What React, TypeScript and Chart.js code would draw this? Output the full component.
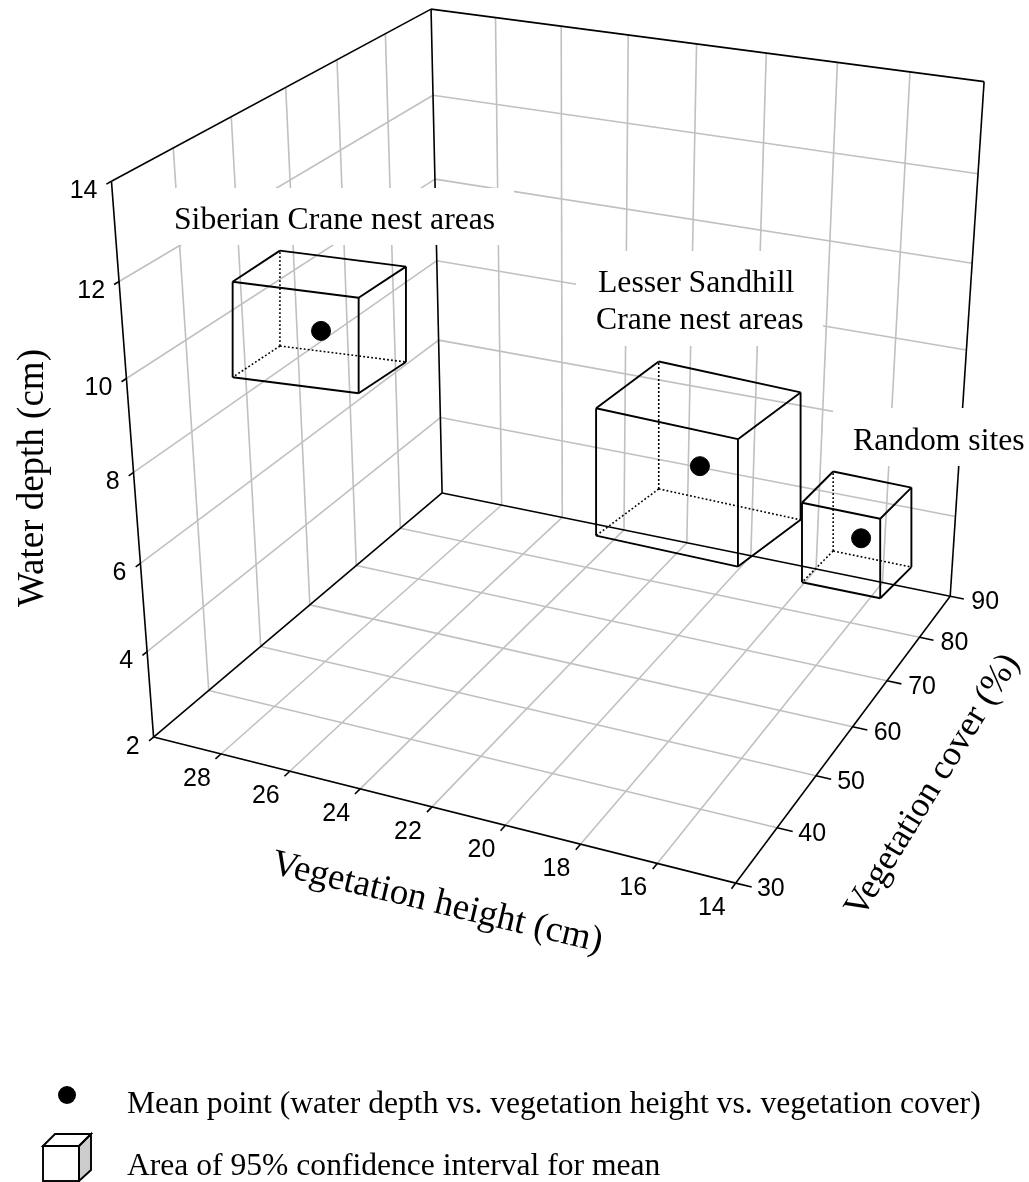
import React, { useEffect, useRef } from "react";
import { Chart, registerables } from "chart.js";
Chart.register(...registerables);

const W = 1029, H = 1182;
const heightTicks = [28, 26, 24, 22, 20, 18, 16, 14];
const coverTicks = [30, 40, 50, 60, 70, 80, 90];
const depthTicks = [2, 4, 6, 8, 10, 12, 14];

// 95% confidence boxes, [low, high]
const siberianHeight = [27.31, 31.13];
const siberianCover = [54.72, 64.17];
const siberianDepth = [7.89, 10.05];
const lesserHeight = [16.53, 20.44];
const lesserCover = [52.78, 68.23];
const lesserDepth = [5.82, 8.66];
const randomHeight = [13.2, 15.28];
const randomCover = [56.77, 65.38];
const randomDepth = [5.4, 7.17];
// mean points: height, cover, depth
const siberianMean = [29.18, 59.45, 8.77];
const lesserMean = [18.44, 60.5, 7.2];
const randomMean = [14.12, 61.07, 6.23];

// camera calibration: axis value triple -> where the reference shows it
const anchors: number[][] = [
  [30, 30, 14, 112, 180], [30, 30, 2, 154, 736], [14, 30, 2, 735, 882], [14, 90, 2, 949, 597],
  [30, 90, 2, 442, 491], [30, 90, 14, 431, 10], [14, 90, 14, 984, 81],
  [28, 30, 2, 221, 754], [26, 30, 2, 290, 772], [24, 30, 2, 360, 789], [22, 30, 2, 432, 808], [20, 30, 2, 505, 826], [16, 30, 2, 657, 863],
  [14, 40, 2, 777, 826], [14, 50, 2, 817, 775], [14, 60, 2, 853, 727], [14, 70, 2, 888, 682], [14, 80, 2, 920, 638],
  [30, 30, 12, 119, 282], [30, 30, 10, 126, 379], [30, 30, 4, 147, 653],
];
const nu = (h: number) => (h - 14) / 16, nv = (c: number) => (c - 30) / 60, nw = (d: number) => (d - 2) / 12;

function lsq(A: number[][], b: number[]) {
  const n = A[0].length;
  const M = Array.from({ length: n }, () => new Array(n + 1).fill(0));
  A.forEach((r, k) => { for (let i = 0; i < n; i++) { for (let j = 0; j < n; j++) M[i][j] += r[i] * r[j]; M[i][n] += r[i] * b[k]; } });
  for (let i = 0; i < n; i++) {
    let p = i; for (let r = i + 1; r < n; r++) if (Math.abs(M[r][i]) > Math.abs(M[p][i])) p = r;
    [M[i], M[p]] = [M[p], M[i]];
    for (let r = 0; r < n; r++) if (r !== i) { const f = M[r][i] / M[i][i]; for (let c = i; c <= n; c++) M[r][c] -= f * M[i][c]; }
  }
  return M.map((r, i) => r[n] / r[i]);
}
function camera() {
  const A: number[][] = [], b: number[] = [];
  anchors.forEach(([h, c, d, x, y]) => {
    const u = nu(h), v = nv(c), w = nw(d);
    const X = x / 1000, Y = y / 1000;
    A.push([u, v, w, 1, 0, 0, 0, 0, -X * u, -X * v, -X * w]); b.push(X);
    A.push([0, 0, 0, 0, u, v, w, 1, -Y * u, -Y * v, -Y * w]); b.push(Y);
  });
  const p = lsq(A, b);
  return [[p[0], p[1], p[2], p[3]], [p[4], p[5], p[6], p[7]], [p[8], p[9], p[10], 1]];
}
const P = camera();
function project(h: number, c: number, d: number) {
  const q = [nu(h), nv(c), nw(d), 1];
  const dot = (r: number[]) => r[0] * q[0] + r[1] * q[1] + r[2] * q[2] + r[3];
  const s = dot(P[2]);
  return { x: 1000 * dot(P[0]) / s, y: 1000 * dot(P[1]) / s };
}

const line = (pts: { x: number; y: number }[], color: string, width: number, dash: number[] = []) => ({
  showLine: true, data: pts, borderColor: color, borderWidth: width, borderDash: dash, pointRadius: 0, fill: false,
});
const line3 = (pts: number[][], color: string, width: number) => line(pts.map(p => project(p[0], p[1], p[2])), color, width);

// the source draws each box as an oblique parallel projection with vertical uprights;
// heightSlope and coverSlope are that drawing's edge slopes
function boxLines(height: number[], cover: number[], depth: number[], heightSlope: number, coverSlope: number) {
  const [h0, h1] = height, [c0, c1] = cover, [d0, d1] = depth;
  const hm = (h0 + h1) / 2, cm = (c0 + c1) / 2, dm = (d0 + d1) / 2;
  const o = project(hm, cm, dm);
  const a = project(hm + 1, cm, dm), b = project(hm, cm + 1, dm), e = project(hm, cm, dm + 1);
  const ax = a.x - o.x, bx = b.x - o.x;
  const v = (p: number[]) => {
    const dh = p[0] - hm, dc = p[1] - cm, dd = p[2] - dm;
    return { x: o.x + ax * dh + bx * dc, y: o.y + ax * heightSlope * dh - bx * coverSlope * dc + (e.y - o.y) * dd };
  };
  const solid = [
    [[h1, c0, d1], [h0, c0, d1]], [[h0, c0, d1], [h0, c0, d0]], [[h0, c0, d0], [h1, c0, d0]], [[h1, c0, d0], [h1, c0, d1]],
    [[h1, c0, d1], [h1, c1, d1]], [[h1, c1, d1], [h0, c1, d1]], [[h0, c1, d1], [h0, c0, d1]],
    [[h0, c1, d1], [h0, c1, d0]], [[h0, c1, d0], [h0, c0, d0]],
  ];
  const dotted = [[[h1, c1, d0], [h1, c1, d1]], [[h1, c1, d0], [h1, c0, d0]], [[h1, c1, d0], [h0, c1, d0]]];
  return [...solid.map(s => line(s.map(v), "#000", 1.9)), ...dotted.map(s => line(s.map(v), "#000", 1.6, [1.8, 2.2]))];
}
const GRID = "#c0c0c0", GW = 1.6;
function gridLines() {
  const out: any[] = [];
  const hs = heightTicks.filter(h => h > 14), cs = coverTicks.filter(c => c > 30 && c < 90), ds = depthTicks.filter(d => d > 2 && d < 14);
  hs.forEach(h => { out.push(line3([[h, 30, 2], [h, 90, 2]], GRID, GW)); out.push(line3([[h, 90, 2], [h, 90, 14]], GRID, GW)); });
  cs.forEach(c => { out.push(line3([[14, c, 2], [30, c, 2]], GRID, GW)); out.push(line3([[30, c, 2], [30, c, 14]], GRID, GW)); });
  ds.forEach(d => { out.push(line3([[30, 30, d], [30, 90, d]], GRID, GW)); out.push(line3([[30, 90, d], [14, 90, d]], GRID, GW)); });
  return out;
}
function axisLines() {
  const out: any[] = [];
  const E = (a: number[], b: number[]) => out.push(line3([a, b], "#000", 1.6));
  E([30, 30, 14], [30, 30, 2]); E([30, 30, 2], [14, 30, 2]); E([14, 30, 2], [14, 90, 2]);
  E([30, 30, 14], [30, 90, 14]); E([30, 90, 14], [14, 90, 14]); E([14, 90, 14], [14, 90, 2]);
  E([30, 90, 14], [30, 90, 2]); E([30, 90, 2], [30, 30, 2]); E([30, 90, 2], [14, 90, 2]);
  heightTicks.forEach(h => E([h, 30, 2], [h, 29, 2]));
  coverTicks.forEach(c => E([14, c, 2], [13.6, c, 2]));
  depthTicks.forEach(d => E([30, 30, d], [30, 29.2, d]));
  return out;
}
const meanSet = (pts: number[][]) => ({ data: pts.map(p => project(p[0], p[1], p[2])), backgroundColor: "#000", borderColor: "#000", pointRadius: 9.5, showLine: false });

const SERIF = '"Liberation Serif"', SANS = '"Liberation Sans"';
const masks = [[154, 188, 514, 245], [576, 251, 823, 346], [833, 408, 1029, 466]];
const notes: [string, number, number][] = [
  ["Siberian Crane nest areas", 174, 229], ["Lesser Sandhill", 598, 292], ["Crane nest areas", 596, 329], ["Random sites", 853, 450],
];
const legendTexts: [string, number, number][] = [
  ["Mean point (water depth vs. vegetation height vs. vegetation cover)", 127, 1113],
  ["Area of 95% confidence interval for mean", 127, 1175],
];
const titles: [string, number, number, number, number][] = [
  ["Water depth (cm)", 43, 607, -90, 37], ["Vegetation height (cm)", 270, 873, 13.5, 37], ["Vegetation cover (%)", 862, 919, -58.5, 35.5],
];

export default function App() {
  const ref = useRef<HTMLCanvasElement>(null);
  useEffect(() => {
    const top = [
      ...boxLines(randomHeight, randomCover, randomDepth, 0.205, 1.0),
      ...boxLines(lesserHeight, lesserCover, lesserDepth, 0.218, 0.746),
      ...boxLines(siberianHeight, siberianCover, siberianDepth, 0.127, 0.66),
    ];
    const under = [...axisLines(), ...gridLines()];
    const datasets: any[] = [meanSet([siberianMean, lesserMean, randomMean]), ...top, ...under];
    const firstUnder = 1 + top.length;
    const plugin = {
      id: "paint",
      afterDatasetDraw(chart: any, args: any) {
        if (args.index !== firstUnder) return;
        const ctx = chart.ctx, sx = chart.scales.x, sy = chart.scales.y;
        const px = (x: number) => sx.getPixelForValue(x), py = (y: number) => sy.getPixelForValue(y);
        ctx.save();
        ctx.fillStyle = "#fff";
        masks.forEach(([a, b, c, d]) => ctx.fillRect(px(a), py(b), px(c) - px(a), py(d) - py(b)));
        ctx.fillStyle = "#000";
        ctx.textBaseline = "alphabetic"; ctx.textAlign = "left";
        ctx.font = `31.7px ${SERIF}`;
        notes.forEach(([t, x, y]) => ctx.fillText(t, px(x), py(y)));
        ctx.font = `31.6px ${SERIF}`;
        legendTexts.forEach(([t, x, y]) => ctx.fillText(t, px(x), py(y)));
        titles.forEach(([t, x, y, a, s]) => {
          ctx.save(); ctx.font = `${s}px ${SERIF}`; ctx.translate(px(x), py(y)); ctx.rotate(a * Math.PI / 180); ctx.fillText(t, 0, 0); ctx.restore();
        });
        ctx.font = `25px ${SANS}`;
        ctx.textBaseline = "middle"; ctx.textAlign = "center";
        heightTicks.forEach(h => { const p = project(h, 30, 2); ctx.fillText(String(h), px(p.x - 24), py(p.y + 25)); });
        coverTicks.forEach(c => { const p = project(14, c, 2); ctx.fillText(String(c), px(p.x + 35), py(p.y + 6)); });
        ctx.textAlign = "right";
        depthTicks.forEach(d => { const p = project(30, 30, d); ctx.fillText(String(d), px(p.x - 14), py(p.y + 10)); });
        ctx.beginPath(); ctx.arc(px(67), py(1095), 9, 0, Math.PI * 2); ctx.fill();
        ctx.lineWidth = 1.9; ctx.strokeStyle = "#000";
        ctx.fillStyle = "#ccc";
        ctx.beginPath(); ctx.moveTo(79, 1146); ctx.lineTo(91, 1134); ctx.lineTo(91, 1170); ctx.lineTo(79, 1181); ctx.closePath(); ctx.fill(); ctx.stroke();
        ctx.beginPath(); ctx.moveTo(43, 1146); ctx.lineTo(55, 1134); ctx.lineTo(91, 1134); ctx.lineTo(79, 1146); ctx.closePath(); ctx.stroke();
        ctx.strokeRect(43, 1146, 36, 35);
        ctx.restore();
      },
    };
    const chart = new Chart(ref.current!, {
      type: "scatter",
      data: { datasets },
      plugins: [plugin],
      options: {
        animation: false, responsive: false, maintainAspectRatio: false,
        layout: { padding: 0, autoPadding: false },
        plugins: { legend: { display: false }, tooltip: { enabled: false } },
        scales: {
          x: { type: "linear", display: false, min: 0, max: W },
          y: { type: "linear", display: false, min: 0, max: H, reverse: true },
        },
      },
    } as any);
    return () => chart.destroy();
  }, []);
  return (
    <div style={{ position: "absolute", left: 0, top: 0, width: W, height: H, overflow: "hidden", background: "#fff" }}>
      <canvas ref={ref} width={W} height={H} style={{ display: "block" }} />
    </div>
  );
}
